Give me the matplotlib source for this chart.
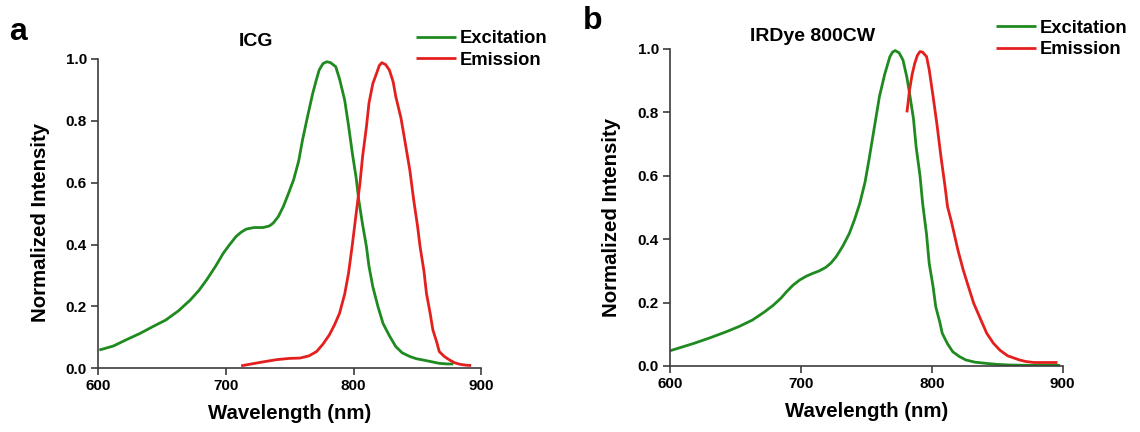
import matplotlib
matplotlib.use("Agg")
import matplotlib.pyplot as plt

plt.rcParams['font.family'] = ['Liberation Sans', 'DejaVu Sans']
plt.rcParams['font.weight'] = 'bold'

# ---- ICG spectra ----
icg_ex_wl = [601, 612, 622, 633, 643, 653, 663, 672, 679, 685, 692, 698, 703, 708, 712,
             716, 722, 729, 734, 737, 741, 745, 749, 753, 757, 760, 764, 768, 771, 773,
             776, 779, 782, 786, 789, 793, 796, 799, 802, 804, 807, 810, 812, 815, 819,
             823, 828, 833, 838, 844, 849, 854, 860, 867, 873, 878]
icg_ex = [0.059, 0.072, 0.092, 0.113, 0.135, 0.156, 0.186, 0.220, 0.252, 0.286, 0.330, 0.372,
          0.400, 0.426, 0.440, 0.450, 0.455, 0.455, 0.460, 0.469, 0.490, 0.523, 0.565, 0.609,
          0.670, 0.738, 0.815, 0.889, 0.935, 0.964, 0.985, 0.991, 0.988, 0.975, 0.935, 0.867,
          0.785, 0.695, 0.615, 0.544, 0.465, 0.394, 0.330, 0.264, 0.200, 0.145, 0.105, 0.070,
          0.050, 0.038, 0.031, 0.027, 0.022, 0.016, 0.014, 0.014]

icg_em_wl = [712, 720, 731, 740, 750, 758, 765, 771, 776, 781, 785, 789, 793, 796, 799,
             802, 805, 807, 810, 812, 815, 818, 820, 822, 825, 828, 831, 833, 837, 840,
             844, 847, 850, 852, 855, 857, 860, 862, 865, 867, 871, 875, 879, 883, 888, 892]
icg_em = [0.008, 0.014, 0.022, 0.028, 0.032, 0.033, 0.040, 0.054, 0.078, 0.108, 0.140, 0.178,
          0.240, 0.307, 0.400, 0.501, 0.600, 0.684, 0.780, 0.857, 0.920, 0.954, 0.978, 0.988,
          0.982, 0.964, 0.925, 0.878, 0.810, 0.738, 0.640, 0.544, 0.460, 0.393, 0.315, 0.242,
          0.175, 0.124, 0.085, 0.054, 0.038, 0.027, 0.018, 0.013, 0.010, 0.009]

# ---- IRDye 800CW spectra ----
ird_ex_wl = [600, 618, 630, 643, 653, 663, 672, 679, 685, 689, 694, 699, 704, 709, 714,
             719, 723, 727, 732, 737, 741, 745, 749, 752, 756, 760, 764, 768, 770, 772,
             775, 778, 781, 783, 786, 788, 791, 793, 796, 798, 801, 803, 806, 808, 812,
             816, 821, 826, 833, 842, 850, 860, 875, 898]
ird_ex = [0.048, 0.071, 0.088, 0.108, 0.125, 0.145, 0.170, 0.192, 0.215, 0.234, 0.255, 0.271,
          0.283, 0.292, 0.300, 0.311, 0.325, 0.345, 0.378, 0.418, 0.462, 0.513, 0.580, 0.650,
          0.750, 0.850, 0.920, 0.976, 0.990, 0.995, 0.988, 0.965, 0.910, 0.860, 0.780, 0.692,
          0.600, 0.513, 0.415, 0.324, 0.250, 0.187, 0.140, 0.103, 0.070, 0.045, 0.030, 0.019,
          0.012, 0.008, 0.005, 0.003, 0.002, 0.002]

ird_em_wl = [781, 782, 783, 785, 787, 789, 791, 793, 796, 798, 801, 804, 807, 810, 812,
             815, 817, 820, 824, 828, 832, 837, 842, 847, 852, 858, 867, 872, 878, 886, 896]
ird_em = [0.800, 0.835, 0.871, 0.920, 0.955, 0.980, 0.992, 0.990, 0.976, 0.935, 0.850, 0.760,
          0.660, 0.570, 0.503, 0.455, 0.419, 0.365, 0.303, 0.250, 0.198, 0.150, 0.103, 0.072,
          0.050, 0.032, 0.019, 0.014, 0.011, 0.011, 0.011]

ticks_x = [600, 700, 800, 900]
ticks_y = [0.0, 0.2, 0.4, 0.6, 0.8, 1.0]

green = '#1f8a1f'
red = '#e3201e'
spine_col = '#3c3c3c'

fig = plt.figure(figsize=(11.4, 4.32), dpi=100)
ax1 = fig.add_axes([0.0860, 0.1475, 0.3363, 0.7160])
ax2 = fig.add_axes([0.5877, 0.1528, 0.3445, 0.7338])

panels = [
    (ax1, icg_ex_wl, icg_ex, icg_em_wl, icg_em),
    (ax2, ird_ex_wl, ird_ex, ird_em_wl, ird_em),
]

for ax, exw, ex, emw, em in panels:
    ax.plot(exw, ex, color=green, lw=2.0, label='Excitation', solid_capstyle='butt')
    ax.plot(emw, em, color=red, lw=2.0, label='Emission', solid_capstyle='butt')
    ax.set_xlim(600, 900)
    ax.set_ylim(0, 1.0)
    ax.set_xticks(ticks_x)
    ax.set_yticks(ticks_y)
    ax.set_yticklabels(['%.1f' % v for v in ticks_y])
    for s in ['top', 'right']:
        ax.spines[s].set_visible(False)
    for s in ['left', 'bottom']:
        ax.spines[s].set_color(spine_col)
        ax.spines[s].set_linewidth(1.2)
    ax.tick_params(direction='out', length=5, width=1.2, color=spine_col,
                   labelsize=11, pad=3)
    for lab in ax.get_xticklabels() + ax.get_yticklabels():
        lab.set_fontweight('bold')
    ax.set_xlabel('Wavelength (nm)', fontsize=14.7, fontweight='bold')
    ax.set_ylabel('Normalized Intensity', fontsize=14.7, fontweight='bold')
    ax.xaxis.set_label_coords(0.5, -0.115)
    ax.yaxis.set_label_coords(-0.125, 0.47)

# legends above each panel
ax1.legend(loc='center left', bbox_to_anchor=(0.365, 0.886), bbox_transform=fig.transFigure,
           frameon=False, fontsize=13.2, handlelength=2.2, handletextpad=0.2,
           labelspacing=0.25, borderpad=0, borderaxespad=0)
ax2.legend(loc='center left', bbox_to_anchor=(0.8737, 0.910), bbox_transform=fig.transFigure,
           frameon=False, fontsize=13.2, handlelength=2.2, handletextpad=0.2,
           labelspacing=0.25, borderpad=0, borderaxespad=0)

# titles and panel letters
fig.text(0.2246, 0.8935, 'ICG', ha='center', va='baseline', fontsize=14, fontweight='bold')
fig.text(0.713, 0.905, 'IRDye 800CW', ha='center', va='baseline', fontsize=14, fontweight='bold')
fig.text(0.0079, 0.9074, 'a', ha='left', va='baseline', fontsize=23, fontweight='bold')
fig.text(0.5114, 0.933, 'b', ha='left', va='baseline', fontsize=23, fontweight='bold')

fig.savefig('out.png', dpi=100)
